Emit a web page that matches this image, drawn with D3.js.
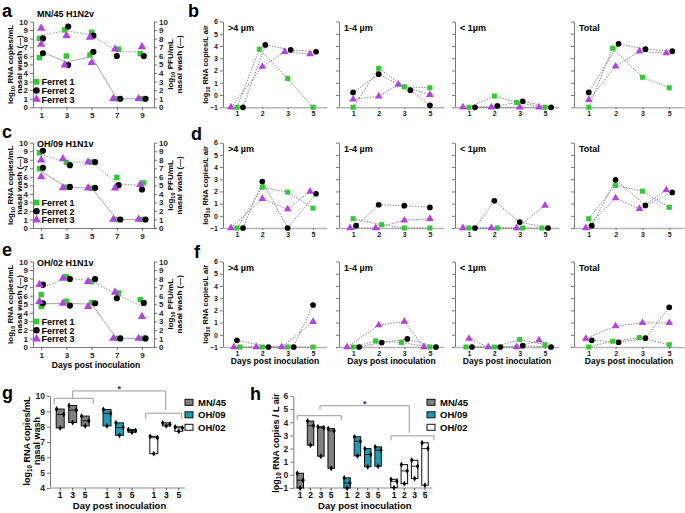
<!DOCTYPE html>
<html lang="en">
<head>
<meta charset="UTF-8">
<title>Ferret nasal wash and air sampling</title>
<style>
  body { margin: 0; background: #fff; }
  svg { display: block; font-family: "Liberation Sans", Arial, sans-serif; font-weight: bold; }
  .axis path, .axis line { stroke: #555; stroke-width: 0.8; }
  .axis text { fill: #222; font-weight: bold; }
  .base path { stroke: #b5b5b5; stroke-width: 1.6; }
  .letter { font-size: 18px; font-weight: bold; }
</style>
</head>
<body>
<svg></svg>
<script src="https://cdn.jsdelivr.net/npm/d3@7"></script>
<script>
  // ---- data: nasal wash (a, c, e) ----
  const ferrets = ['Ferret 1', 'Ferret 2', 'Ferret 3'];
  const nwDays = [1, 3, 5, 7, 9];
  const nwStrains = ['MN/45 H1N2v', 'OH/09 H1N1v', 'OH/02 H1N1v'];

  // one row per ferret, one value per day (log10 RNA copies/mL)
  const mn45Rna = [[8.03, 9.02, 8.74, 6.77, 6.26], [8.03, 9.41, 8.35, 5.98, 5.98], [9.2, 8.35, 8.15, 6.77, 7.05]];
  const mn45Pfu = [[5.8, 5.98, 6.1, 1, 1], [6.3, 4.92, 6.46, 1, 1], [7.35, 4.92, 5.2, 1, 1]];
  const oh09Rna = [[8.82, 7.69, 7.73, 5.92, 5.29], [9.06, 7.37, 7.73, 5.02, 4.51], [7.96, 8.12, 7.73, 4.67, 5.1]];
  const oh09Pfu = [[6.94, 4.78, 4.67, 1, 1], [7.06, 4.82, 4.71, 1, 1], [6.0, 4.71, 4.67, 1, 1]];
  const oh02Rna = [[6.12, 8.22, 7.64, 6.32, 5.54], [7.29, 7.95, 7.95, 5.7, 5.16], [7.29, 8.02, 7.64, 6.4, 3.57]];
  const oh02Pfu = [[4.73, 5.35, 5.19, 1, 1], [5.12, 4.84, 5.12, 1, 1], [5.31, 5.12, 4.73, 1, 1]];

  // ---- data: air sampling (b, d, f) ----
  const airDays = [1, 2, 3, 5];
  const airFractions = ['>4 µm', '1-4 µm', '< 1µm', 'Total'];
  // [fraction][ferret][day]
  const mn45Air = [
    [[-1, 3.74, 1.34, -1], [-1, 4.09, 3.69, 3.53], [-1, 2.32, 3.53, 3.34]],
    [[-1, 2.18, 0.67, 0.59], [0.21, 1.7, 0.4, -0.84], [-0.35, -0.11, 0.86, 0.02]],
    [[-1, -0.08, -0.6, -1], [-1, -0.89, -0.51, -1], [-1, -1, -1, -1]],
    [[-1, 3.82, 1.45, 0.59], [0.21, 4.18, 3.74, 3.58], [-0.38, 2.34, 3.58, 3.42]]
  ];
  const oh09Air = [
    [[-1, 2.35, 1.94, 0.63], [-1, 2.81, -1, 1.81], [-1, 1.4, 0.55, 2.0]],
    [[-0.24, -0.73, -1, -1], [-0.81, 0.91, 0.83, 0.69], [-1, -1, -0.37, -0.24]],
    [[-1, -1, -1, -1], [-1, 1.23, -0.51, -1], [-1, -1, -1, 0.85]],
    [[-0.24, 2.49, 2.02, 0.69], [-0.81, 2.95, 0.85, 1.92], [-1, 1.45, 0.58, 2.11]]
  ];
  const oh02Air = [
    [[-1, -1, -1, -1], [-0.45, -1, -1, 2.44], [-1, -1, -1, 1.07]],
    [[-1, -0.5, -0.64, -1], [-1, -0.64, -0.34, -1], [-1, 0.79, 1.09, -1]],
    [[-1, -1, -0.39, -0.81], [-1, -1, -0.89, -1], [-0.31, -1, -1, -0.45]],
    [[-1, -0.53, -0.23, -0.81], [-0.45, -0.61, -0.28, 2.25], [-0.31, 0.71, 0.98, 0.98]]
  ];

  // ---- data: floating bars (g, h) ----
  const boxGroups = ['MN/45', 'OH/09', 'OH/02'];
  const nwBoxDays = [1, 3, 5];
  const nwBoxValues = [
    [[9.15, 8.8, 7.92], [9.38, 9.08, 8.27], [8.69, 8.38, 8.05]],
    [[9.12, 8.86, 8.05], [8.25, 7.94, 7.44], [7.81, 7.75, 7.64]],
    [[7.37, 7.28, 6.24], [8.25, 8.16, 8.05], [7.99, 7.92, 7.7]]
  ];
  const airBoxDays = [1, 2, 3, 5];
  const airBoxValues = [
    [[0.12, -0.41, -1.0], [4.09, 3.74, 2.26], [3.66, 3.58, 1.42], [3.53, 3.35, 0.5]],
    [[-0.23, -0.62, -1.0], [2.9, 2.56, 1.45], [2.0, 1.55, 0.62], [2.13, 1.88, 0.66]],
    [[-0.34, -0.49, -0.97], [0.78, 0.3, -0.67], [1.11, 0.66, -0.28], [2.44, 2.0, -0.79]]
  ];

  const ferretColor = ['#2fcc2f', '#000000', '#b540e8'];
  const ferretSymbol = [d3.symbolSquare, d3.symbolCircle, d3.symbolTriangle];
  const ferretSize = [30, 30, 30];
  const ferretRank = [1, 2, 0]; // left-to-right order when markers overlap
  const groupFill = ['#808080', '#1b9cb4', '#ffffff'];

  const svg = d3.select('svg').attr('width', 685).attr('height', 513);

  const rows = [[21.5, 107.3], [142.7, 228], [261.5, 347]];
  const titleY = [17, 146.5, 265.5];

  function logText(sel, rest, size) {
    sel.append('tspan').text('log');
    sel.append('tspan').text('10').attr('font-size', size * 0.7).attr('dy', size * 0.25);
    sel.append('tspan').text(rest).attr('dy', -size * 0.25);
  }

  function vLabel(x, y, size, fn) {
    const t = svg.append('text')
      .attr('transform', `translate(${x},${y}) rotate(-90)`)
      .attr('text-anchor', 'middle')
      .attr('font-size', size);
    fn(t);
    return t;
  }

  function marker(g, f, x, y, scale) {
    g.append('path')
      .attr('d', d3.symbol(ferretSymbol[f], ferretSize[f] * (scale || 1))())
      .attr('transform', `translate(${x},${y})`)
      .attr('fill', ferretColor[f]);
  }

  // spread markers that sit on top of each other
  function spread(items, y, gap) {
    const order = d3.range(items.length).sort((a, b) => ferretRank[items[a].f] - ferretRank[items[b].f]);
    const clusters = [];
    order.forEach(i => {
      const c = clusters.find(c => c.some(j => Math.abs(y(items[j].v) - y(items[i].v)) < 4.5));
      c ? c.push(i) : clusters.push([i]);
    });
    const dx = [];
    clusters.forEach(c => c.forEach((i, k) => { dx[i] = (k - (c.length - 1) / 2) * gap; }));
    return dx;
  }

  // ---- panels a, c, e ----
  const nwSets = [[mn45Rna, mn45Pfu], [oh09Rna, oh09Pfu], [oh02Rna, oh02Pfu]];

  nwStrains.forEach((title, r) => {
    const [top, bottom] = rows[r];
    const [rna, pfu] = nwSets[r];
    const x = d3.scaleLinear().domain([0.35, 9.95]).range([33, 154]);
    const y = d3.scaleLinear().domain([0, 10]).range([bottom, top]);
    const g = svg.append('g');

    g.append('g').attr('class', 'axis').attr('transform', 'translate(33,0)')
      .call(d3.axisLeft(y).ticks(10).tickSize(3).tickPadding(2).tickSizeOuter(0))
      .selectAll('text').attr('font-size', 8);
    g.append('g').attr('class', 'axis').attr('transform', 'translate(154,0)')
      .call(d3.axisRight(y).ticks(10).tickSize(3).tickPadding(2).tickSizeOuter(0))
      .selectAll('text').attr('font-size', 8);
    g.append('g').attr('class', 'axis').attr('transform', `translate(0,${bottom})`)
      .call(d3.axisBottom(x).tickValues(nwDays).tickSize(3).tickPadding(2).tickSizeOuter(0))
      .selectAll('text').attr('font-size', 8);

    const line = d3.line().x((d, i) => x(nwDays[i])).y(d => y(d));
    const rnaMean = nwDays.map((d, i) => d3.mean(rna, s => s[i]));
    const pfuMean = nwDays.map((d, i) => d3.mean(pfu, s => s[i]));
    g.append('path').attr('d', line(rnaMean)).attr('fill', 'none')
      .attr('stroke', '#999').attr('stroke-width', 1).attr('stroke-dasharray', '1.5,1.5');
    g.append('path').attr('d', line(pfuMean)).attr('fill', 'none')
      .attr('stroke', '#aaa').attr('stroke-width', 1);

    nwDays.forEach((day, i) => {
      const items = [];
      [rna, pfu].forEach(set => set.forEach((s, f) => items.push({ f, v: s[i] })));
      const dx = spread(items, y, 3.5);
      items.forEach((it, k) => marker(g, it.f, x(day) + dx[k], y(it.v)));
    });

    g.append('text').attr('x', 37).attr('y', titleY[r]).attr('font-size', 9).text(title);

    // legend
    ferrets.forEach((name, f) => {
      const ly = bottom - 25.5 + f * 8.7;
      marker(g, f, 36.5, ly, 1.1);
      g.append('text').attr('x', 41.5).attr('y', ly + 3.3).attr('font-size', 9).text(name);
    });

    const mid = (top + bottom) / 2;
    vLabel(13, mid, 8, t => logText(t, ' RNA copies/mL', 8));
    vLabel(21.5, mid, 8, t => t.text('nasal wash (—)'));
    vLabel(173, mid, 8, t => logText(t, ' PFU/mL', 8));
    vLabel(181.5, mid, 8, t => t.text('nasal wash (—)'));
  });

  svg.append('text').attr('x', 96).attr('y', 368).attr('text-anchor', 'middle')
    .attr('font-size', 8.5).text('Days post inoculation');

  // ---- panels b, d, f ----
  const airSets = [mn45Air, oh09Air, oh02Air];
  const subLeft = [223, 339, 455, 574];
  const subWidth = [104, 105, 104, 110];

  airSets.forEach((set, r) => {
    const [top, bottom] = rows[r];
    const y = d3.scaleLinear().domain([-1, 6]).range([bottom, top]);

    airFractions.forEach((frac, k) => {
      const left = subLeft[k];
      const x = d3.scalePoint().domain(airDays).range([left, left + subWidth[k]]).padding(0.55);
      const g = svg.append('g');

      const ya = d3.axisLeft(y).ticks(7).tickSize(3).tickPadding(2).tickSizeOuter(0);
      if (k > 0) ya.tickFormat('');
      g.append('g').attr('class', 'axis').attr('transform', `translate(${left},0)`)
        .call(ya).selectAll('text').attr('font-size', 7);
      g.append('g').attr('class', 'axis base').attr('transform', `translate(0,${bottom})`)
        .call(d3.axisBottom(x).tickSize(2).tickPadding(2).tickSizeOuter(0))
        .selectAll('text').attr('font-size', 7);

      const pos = set[k].map(s => s.map(() => 0));
      airDays.forEach((day, i) => {
        const items = set[k].map((s, f) => ({ f, v: s[i] }));
        const dx = spread(items, y, 6);
        items.forEach((it, f) => { pos[f][i] = [x(day) + dx[f], y(it.v)]; });
      });

      set[k].forEach((s, f) => {
        g.append('path').attr('d', d3.line()(pos[f])).attr('fill', 'none')
          .attr('stroke', '#777').attr('stroke-width', 0.9).attr('stroke-dasharray', '1.4,1.4');
      });
      set[k].forEach((s, f) => pos[f].forEach(p => marker(g, f, p[0], p[1], 0.85)));

      g.append('text').attr('x', left + 5).attr('y', top + 9).attr('font-size', 9).text(frac);

      if (r === 2) {
        g.append('text').attr('x', left + subWidth[k] / 2).attr('y', bottom + 17)
          .attr('text-anchor', 'middle').attr('font-size', 8.5).text('Days post inoculation');
      }
    });

    vLabel(208, (top + bottom) / 2, 7.5, t => logText(t, ' RNA copies/L air', 7.5));
  });

  // ---- panels g, h ----
  function boxPanel(opt) {
    const y = d3.scaleLinear().domain(opt.domain).range([488, 396]);
    const gx = d3.scalePoint().domain(boxGroups).range(opt.groupRange);
    const dx = d3.scalePoint().domain(opt.days).range(opt.dayRange);
    const g = svg.append('g');

    g.append('g').attr('class', 'axis').attr('transform', `translate(${opt.x0},0)`)
      .call(d3.axisLeft(y).ticks(opt.domain[1] - opt.domain[0]).tickSize(3).tickPadding(2).tickSizeOuter(0))
      .selectAll('text').attr('font-size', 8.5);

    g.append('line').attr('x1', opt.x0).attr('x2', opt.x1).attr('y1', 488).attr('y2', 488)
      .attr('stroke', '#b5b5b5').attr('stroke-width', 1.6);

    boxGroups.forEach((grp, gi) => {
      opt.days.forEach((day, di) => {
        const vals = opt.values[gi][di];
        const cx = gx(grp) + dx(day);
        const w = opt.boxW;
        g.append('line').attr('x1', cx).attr('x2', cx).attr('y1', 488).attr('y2', 490.5).attr('stroke', '#555');
        g.append('text').attr('x', cx).attr('y', 497.5).attr('text-anchor', 'middle')
          .attr('font-size', 8.5).text(day);
        g.append('rect').attr('x', cx - w / 2).attr('width', w)
          .attr('y', y(d3.max(vals))).attr('height', y(d3.min(vals)) - y(d3.max(vals)))
          .attr('fill', groupFill[gi]).attr('stroke', '#111').attr('stroke-width', 1);
        g.append('line').attr('x1', cx - w / 2).attr('x2', cx + w / 2)
          .attr('y1', y(d3.median(vals))).attr('y2', y(d3.median(vals)))
          .attr('stroke', '#111').attr('stroke-width', 0.9);
        const sorted = vals.slice().sort((a, b) => b - a);
        const off = [-0.45 * w, 0.45 * w, 0];
        sorted.forEach((v, k) => {
          g.append('path').attr('d', d3.symbol(d3.symbolDiamond, 10)())
            .attr('transform', `translate(${cx + off[k]},${y(v)})`).attr('fill', '#000');
        });
      });
    });

    // significance brackets
    const b = opt.bracket;
    const br = (x1, x2, yv, drop) => g.append('path')
      .attr('d', `M${x1},${y(yv) + drop}V${y(yv)}H${x2}V${y(yv) + drop}`)
      .attr('fill', 'none').attr('stroke', '#999').attr('stroke-width', 1);
    const g0 = gx(boxGroups[0]), g2 = gx(boxGroups[2]);
    const d0 = opt.days[0], dn = opt.days[opt.days.length - 1];
    br(g0 + dx(d0) - b.padL[0], g0 + dx(dn) + b.padR[0], b.y1, b.drop);
    br(g2 + dx(d0) - b.padL[1], g2 + dx(dn) + b.padR[1], b.y2, b.drop);
    g.append('path')
      .attr('d', `M${b.cx[0]},${y(b.y1) - b.gap}V${y(b.top)}H${b.cx[1]}V${y(b.y2) - 3}`)
      .attr('fill', 'none').attr('stroke', '#999').attr('stroke-width', 1);
    g.append('text').attr('x', (b.cx[0] + b.cx[1]) / 2).attr('y', y(b.top) + 1)
      .attr('text-anchor', 'middle').attr('font-size', 9).attr('fill', '#333').text('*');

    // legend
    boxGroups.forEach((grp, gi) => {
      const ly = 402.3 + gi * 12.5;
      g.append('rect').attr('x', opt.legX).attr('y', ly - 3).attr('width', 8).attr('height', 6)
        .attr('fill', groupFill[gi]).attr('stroke', '#111').attr('stroke-width', 1);
      g.append('text').attr('x', opt.legX + 13).attr('y', ly + 3.5).attr('font-size', 9.5).text(grp);
    });

    g.append('text').attr('x', (opt.x0 + opt.x1) / 2 + 2).attr('y', 509)
      .attr('text-anchor', 'middle').attr('font-size', 9.5).text('Day post inoculation');
  }

  boxPanel({
    domain: [4, 10], days: nwBoxDays, values: nwBoxValues,
    x0: 50, x1: 185, groupRange: [72.7, 166.3], dayRange: [-12.5, 12.5], boxW: 8,
    legX: 185,
    bracket: { y1: 9.85, y2: 8.88, top: 10.33, drop: 6, gap: 0, padL: [6, 8], padR: [8, 3], cx: [72.7, 165.7] }
  });
  vLabel(30, 441, 9, t => logText(t, ' RNA copies/mL', 9));
  vLabel(40, 441, 9, t => t.text('nasal wash'));

  boxPanel({
    domain: [-1, 6], days: airBoxDays, values: airBoxValues,
    x0: 293.3, x1: 432.3, groupRange: [315.7, 409.5], dayRange: [-15.5, 15.5], boxW: 6.5,
    legX: 427,
    bracket: { y1: 4.5, y2: 2.97, top: 5.26, drop: 4.5, gap: 5.5, padL: [3, 3], padR: [10, 9], cx: [320, 409.3] }
  });
  vLabel(279, 443, 9, t => logText(t, ' RNA copies / L air', 9));

  // panel letters
  const letters = [['a', 2, 17], ['b', 188, 17], ['c', 2, 138], ['d', 191, 140],
    ['e', 2, 256], ['f', 194, 258], ['g', 2, 399], ['h', 250, 400]];
  letters.forEach(([t, lx, ly]) => svg.append('text').attr('class', 'letter').attr('x', lx).attr('y', ly).text(t));
</script>
</body>
</html>
